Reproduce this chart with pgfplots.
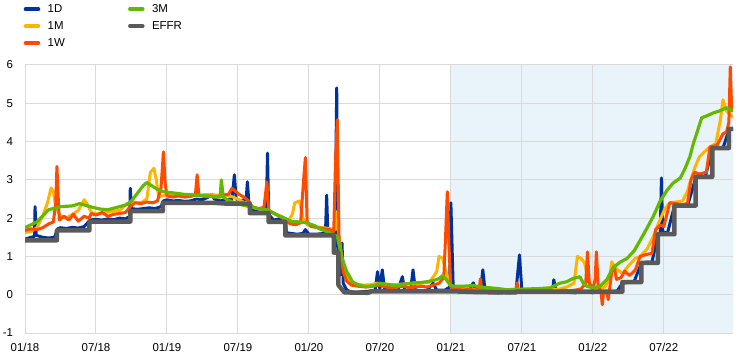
\documentclass[border=0pt]{standalone}
\usepackage{fontspec}
\setmainfont{Liberation Sans}
\usepackage{pgfplots}
\usepackage{pgfplotstable}
\pgfplotsset{compat=1.18}
\definecolor{cD}{HTML}{003299}
\definecolor{cM}{HTML}{FFB400}
\definecolor{cW}{HTML}{FF4B00}
\definecolor{cT}{HTML}{65B800}
\definecolor{cE}{HTML}{5A5A5A}
\definecolor{shade}{HTML}{E9F4FA}
\definecolor{gridgray}{HTML}{DADADA}

\pgfplotstableread{
x y
0 1.42
2.7 1.42
2.7 1.68
5.45 1.68
5.45 1.91
8.9 1.91
8.9 2.18
11.65 2.18
11.65 2.40
16 2.40
17 2.38
19.0 2.38
19.0 2.13
20.6 2.13
20.6 1.90
22.0 1.90
22.0 1.55
26.1 1.55
26.1 1.10
26.5 1.10
26.5 0.25
27.0 0.06
29.0 0.05
29.3 0.09
36 0.09
38 0.07
40 0.06
41.5 0.06
41.5 0.08
50.5 0.08
50.5 0.33
52.1 0.33
52.1 0.83
53.5 0.83
53.5 1.58
54.9 1.58
54.9 2.33
56.7 2.33
56.7 3.08
58.1 3.08
58.1 3.83
59.5 3.83
59.5 4.33
59.85 4.33
}\effr

\pgfplotstableread{
x y
0 1.45
0.5 1.50
0.8 1.52
0.85 2.30
0.95 1.55
1.5 1.50
2.0 1.48
2.5 1.50
2.75 1.72
3.0 1.75
3.5 1.73
4.0 1.76
4.5 1.74
5.0 1.78
5.5 1.95
6.0 1.97
6.5 1.95
7.0 1.98
7.5 1.96
8.0 2.00
8.5 1.98
8.85 2.05
8.9 2.78
9.0 2.25
9.5 2.23
10 2.25
10.5 2.27
11.0 2.25
11.5 2.30
11.7 2.45
12.0 2.48
12.5 2.45
13 2.46
13.5 2.44
14 2.45
14.5 2.50
15 2.48
15.5 2.55
15.8 2.62
16 2.50
16.5 2.45
17 2.48
17.5 2.50
17.7 3.13
17.85 2.50
18.2 2.45
18.7 2.50
18.8 2.95
18.95 2.30
19.5 2.18
20 2.15
20.4 2.25
20.5 3.70
20.6 2.10
21 1.95
21.5 1.98
22.0 1.95
22.1 1.62
22.5 1.60
23 1.58
23.5 1.60
23.7 1.70
24.0 1.58
24.5 1.58
25 1.59
25.4 1.62
25.5 2.60
25.6 1.62
26.0 1.60
26.2 1.25
26.35 5.40
26.45 1.10
26.6 0.5
26.8 1.35
26.9 0.3
27.2 0.12
27.5 0.08
28 0.06
28.5 0.08
29.0 0.09
29.6 0.12
29.8 0.60
30.0 0.15
30.2 0.65
30.4 0.15
31 0.12
31.5 0.10
31.9 0.47
32.1 0.10
32.6 0.12
32.8 0.65
33.0 0.12
33.5 0.10
34 0.12
34.5 0.30
34.8 0.12
35.5 0.12
35.9 0.2
36.0 2.40
36.2 0.15
36.5 0.10
37 0.08
37.5 0.10
37.9 0.31
38.1 0.08
38.5 0.07
38.7 0.65
38.9 0.08
39.5 0.06
40 0.05
40.5 0.06
41 0.05
41.5 0.08
41.8 1.04
42 0.10
42.5 0.08
43 0.08
43.5 0.07
44 0.08
44.6 0.08
44.7 0.39
44.9 0.08
45.5 0.07
46 0.06
46.5 0.05
47 0.07
47.5 0.08
48 0.05
48.5 0.10
49 0.05
49.5 0.08
50 0.07
50.5 0.30
51 0.32
51.5 0.35
52.1 0.82
52.5 0.85
53 0.85
53.5 1.58
53.7 1.62
53.8 3.05
53.9 1.65
54.3 1.60
54.9 2.32
55.5 2.35
56 2.32
56.7 3.05
57 3.08
57.5 3.07
58.1 3.82
58.5 3.85
59 3.83
59.5 4.30
59.85 4.33
}\oneD

\pgfplotstableread{
x y
0 1.62
0.5 1.65
1.0 1.75
1.5 2.05
1.9 2.40
2.2 2.79
2.4 2.70
2.6 2.30
3.0 2.05
3.5 2.00
4.0 2.10
4.5 2.20
5.0 2.48
5.3 2.35
5.6 2.15
6.2 2.10
6.8 2.15
7.4 2.18
8.0 2.20
8.6 2.38
9.2 2.42
9.8 2.40
10.3 2.50
10.6 3.20
10.9 3.30
11.1 3.00
11.3 2.55
11.8 2.60
12.5 2.62
13.2 2.60
14 2.62
14.8 2.60
15.5 2.62
16.2 2.60
17 2.60
17.6 2.55
18.3 2.45
19 2.30
19.6 2.25
20.3 2.22
21 2.12
21.6 2.05
22.2 1.90
22.6 2.10
22.8 2.40
23.2 2.45
23.5 2.00
23.9 1.82
24.5 1.78
25.2 1.75
25.9 1.72
26.2 1.70
26.35 2.17
26.5 1.60
26.8 0.95
27.1 0.55
27.5 0.35
28 0.28
28.6 0.25
29.2 0.26
29.8 0.30
30.5 0.28
31.2 0.26
32 0.28
32.8 0.28
33.5 0.30
34.2 0.33
34.8 0.60
35.0 1.00
35.3 0.95
35.6 0.60
35.9 0.25
36.4 0.18
37 0.15
37.8 0.14
38.6 0.13
39.5 0.12
40.5 0.12
41.5 0.12
42.5 0.13
43.5 0.12
44.5 0.13
45.2 0.15
45.8 0.20
46.4 0.30
46.7 1.00
47.0 0.95
47.3 0.83
47.5 0.55
47.8 0.25
48.4 0.15
49.0 0.20
49.4 0.40
49.6 0.86
49.9 0.70
50.5 0.55
51 0.75
51.6 0.95
52 1.00
52.6 1.20
53.1 1.51
53.6 1.90
54.1 2.25
54.5 2.40
55.0 2.42
55.6 2.45
56.0 2.70
56.2 2.92
56.6 3.30
57.0 3.60
57.5 3.75
57.9 3.86
58.4 3.95
58.8 4.60
59.0 5.09
59.3 4.80
59.6 4.70
59.85 4.65
}\oneM

\pgfplotstableread{
x y
0 1.68
0.5 1.72
1.0 1.70
1.5 1.75
2.0 1.85
2.4 1.90
2.6 2.40
2.7 3.35
2.8 2.60
2.9 1.95
3.3 2.05
3.7 1.95
4.1 2.10
4.5 1.92
5.0 2.05
5.4 2.00
5.6 2.12
6.0 2.08
6.5 2.15
7.0 2.05
7.5 2.10
8.0 2.12
8.5 2.15
8.9 2.30
9.3 2.40
9.8 2.38
10.3 2.42
10.8 2.40
11.2 2.45
11.5 2.80
11.7 3.73
11.85 2.90
12.0 2.58
12.5 2.55
13.0 2.58
13.5 2.55
14.0 2.57
14.4 2.60
14.55 3.13
14.7 2.60
15.2 2.56
15.7 2.58
16.2 2.55
16.7 2.60
17.2 2.62
17.5 2.78
17.8 2.70
18.1 2.62
18.5 2.55
18.9 2.45
19.2 2.30
19.7 2.25
20.2 2.28
20.45 2.95
20.6 2.20
21.0 2.14
21.5 2.05
22.0 1.98
22.4 1.85
22.9 1.83
23.3 1.88
23.55 3.00
23.7 3.58
23.85 1.90
24.2 1.78
24.8 1.75
25.3 1.72
25.8 1.70
26.1 1.65
26.25 3.5
26.4 4.57
26.55 1.40
26.7 1.10
26.9 0.60
27.2 0.35
27.6 0.25
28.2 0.22
28.8 0.20
29.4 0.22
30.0 0.25
30.5 0.20
31 0.18
31.5 0.20
32 0.22
32.5 0.18
33 0.20
33.5 0.22
34 0.20
34.5 0.25
35.0 0.30
35.4 0.45
35.55 1.5
35.7 2.69
35.85 1.2
36.0 0.20
36.5 0.15
37 0.12
37.5 0.14
38.0 0.12
38.4 0.15
38.5 0.42
38.6 0.15
39 0.10
39.5 0.12
40 0.10
40.5 0.09
41 0.10
41.5 0.12
41.6 0.31
41.7 0.12
42.2 0.10
43 0.12
43.5 0.10
44 0.12
44.5 0.10
45 0.08
45.5 0.12
46 0.10
46.5 0.12
47.0 0.15
47.4 0.30
47.55 1.12
47.7 0.30
48.0 0.15
48.2 0.40
48.3 1.12
48.45 0.25
48.7 0.05
48.8 -0.26
48.9 0.05
49.2 0.05
49.3 -0.13
49.4 0.10
49.6 0.60
49.8 0.75
50.0 0.40
50.4 0.45
50.7 0.62
51.1 0.50
51.6 0.65
52.0 1.00
52.5 1.05
53.0 1.08
53.3 1.70
53.7 1.82
54.0 1.78
54.5 2.40
55.0 2.38
55.5 2.35
56.0 2.38
56.3 3.00
56.6 3.20
57.0 3.15
57.6 3.20
57.9 3.86
58.5 3.90
59.0 4.20
59.3 4.25
59.5 4.50
59.62 5.95
59.72 5.0
59.85 4.80
}\oneW

\pgfplotstableread{
x y
0 1.75
1 1.90
2 2.22
3 2.30
4 2.32
4.6 2.38
5.5 2.30
6.3 2.24
7 2.22
7.5 2.26
8 2.30
8.6 2.35
9 2.45
9.5 2.65
10.0 2.85
10.3 2.93
10.7 2.85
11.2 2.75
11.7 2.69
12.5 2.66
13.5 2.62
14.5 2.60
15.4 2.58
16.0 2.55
16.5 2.55
16.6 3.0
16.75 2.55
17.1 2.48
17.6 2.42
18.3 2.35
19 2.30
19.7 2.25
20.5 2.22
21.2 2.10
21.8 2.02
22.5 1.92
23.2 1.90
23.8 1.88
24.5 1.80
24.9 1.72
25.5 1.65
26.0 1.58
26.4 1.52
26.8 0.95
27.2 0.6
27.7 0.33
28.3 0.24
28.9 0.21
29.5 0.24
30 0.30
30.5 0.27
31 0.25
31.5 0.24
32 0.27
32.8 0.31
33.5 0.32
34.0 0.34
34.6 0.38
35.0 0.42
35.3 0.50
35.6 0.40
35.9 0.27
36.2 0.22
37 0.22
37.9 0.24
38.5 0.20
39.3 0.18
40 0.16
40.7 0.13
41.5 0.14
42.5 0.15
43.5 0.16
44.4 0.18
45.2 0.30
45.8 0.34
46.3 0.42
46.9 0.47
47.2 0.30
47.5 0.22
48 0.18
48.6 0.22
49.2 0.40
49.7 0.70
50.3 0.85
50.9 0.95
51.5 1.15
52 1.42
52.6 1.75
53.1 2.04
53.7 2.45
54.3 2.74
54.8 2.92
55.4 3.05
55.8 3.30
56.2 3.60
56.5 3.95
56.8 4.23
57.2 4.62
57.7 4.68
58.2 4.75
58.7 4.80
59.3 4.88
59.85 4.80
}\threeM

\begin{document}
\begin{tikzpicture}
\begin{axis}[
  name=ax,
  set layers,
  scale only axis, width=708bp, height=268bp,
  xmin=0, xmax=59.85, ymin=-1, ymax=6,
  xtick={0,6,...,54},
  xticklabels={01/18,07/18,01/19,07/19,01/20,07/20,01/21,07/21,01/22,07/22},
  ytick={-1,0,...,6},
  grid=major,
  grid style={color=gridgray, line width=1bp},
  axis line style={draw=none},
  major tick length=0pt,
  tick style={draw=none},
  /pgf/number format/assume math mode=true,
  tick label style={font=\fontsize{11.5}{13}\selectfont},
  yticklabel style={xshift=-8.5bp},
  xticklabel style={yshift=-7bp},
  no markers,
  every axis plot/.append style={line join=round, line cap=round},
  legend columns=2,
  legend cell align=left,
  legend image code/.code={\draw[#1] (0bp,0bp) -- (13bp,0bp);},
  legend style={draw=none, fill=none, at={(0,1)}, anchor=north west,
    xshift=-1.5bp, yshift=63bp, inner sep=0pt,
    font=\fontsize{11.5}{13}\selectfont,
    nodes={inner sep=1.5bp, text height=8.5bp, text depth=2.5bp},
    row sep=3bp,
    /tikz/every odd column/.append style={column sep=6bp},
    /tikz/every even column/.append style={column sep=61.7bp}},
]
\addplot[fill=shade, draw=none, on layer=axis background, forget plot] coordinates {(36,-1) (59.85,-1) (59.85,6) (36,6)} -- cycle;

\addplot[cD, line width=3bp, forget plot] table {\oneD};
\addplot[cM, line width=3bp, forget plot] table {\oneM};
\addplot[cW, line width=3bp, forget plot] table {\oneW};
\addplot[cT, line width=3.2bp, forget plot] table {\threeM};
\addplot[cE, line width=4.5bp, forget plot] table {\effr};

\addlegendimage{cD, line width=3.5bp}\addlegendentry{1D}
\addlegendimage{cT, line width=3.5bp}\addlegendentry{3M}
\addlegendimage{cM, line width=3.5bp}\addlegendentry{1M}
\addlegendimage{cE, line width=3.5bp}\addlegendentry{EFFR}
\addlegendimage{cW, line width=3.5bp}\addlegendentry{1W}
\end{axis}
\pgfresetboundingbox
\path[use as bounding box] ([shift={(-25bp,-29bp)}]ax.south west) rectangle ([shift={(11bp,65bp)}]ax.north east);
\end{tikzpicture}
\end{document}
